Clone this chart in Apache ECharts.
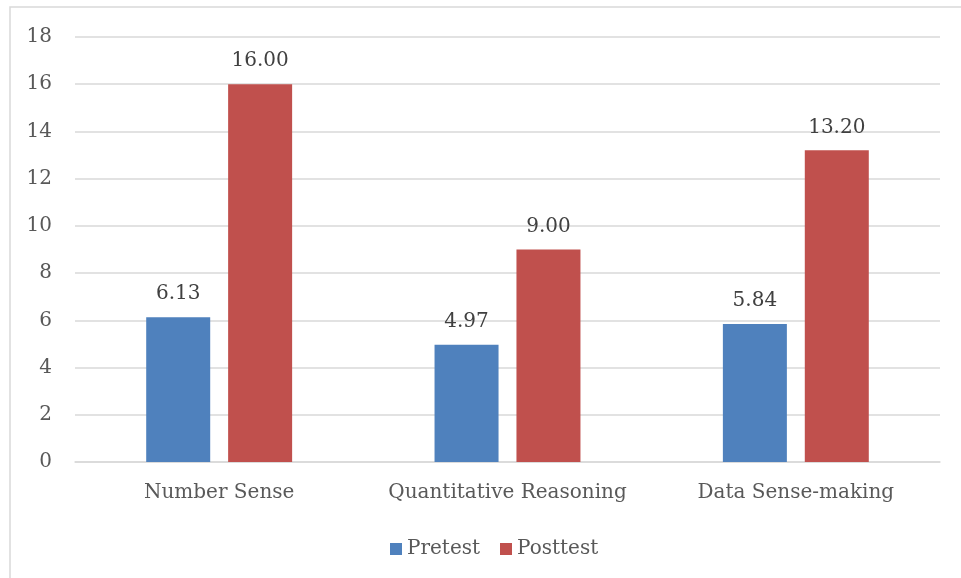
<!DOCTYPE html>
<html>
<head>
<meta charset="utf-8">
<title>Pretest vs Posttest</title>
<script src="https://cdn.jsdelivr.net/npm/echarts@6/dist/echarts.min.js"></script>
<style>
  html, body { margin: 0; padding: 0; background: #fff; }
  #main { width: 961px; height: 578px; }
</style>
</head>
<body>
<div id="main"></div>
<script>
// chart data
var categories = ['Number Sense', 'Quantitative Reasoning', 'Data Sense-making'];
var pretest = [6.13, 4.97, 5.84];
var posttest = [16.00, 9.00, 13.20];

var textColor = '#595959';
var fontFamily = '"DejaVu Serif", serif';

var chart = echarts.init(document.getElementById('main'));

var option = {
  animation: false,
  textStyle: { fontFamily: fontFamily },
  // outer frame, only top and left edges show
  graphic: [{
    type: 'rect',
    shape: { x: 10, y: 7, width: 1200, height: 1200 },
    style: { fill: 'none', stroke: '#d9d9d9', lineWidth: 1.5 },
    silent: true
  }],
  grid: {
    left: 75,
    right: 21,
    top: 37,
    bottom: 116
  },
  legend: {
    left: 385,
    top: 534,
    itemWidth: 12,
    itemHeight: 12,
    itemGap: 20,
    icon: 'rect',
    textStyle: { color: textColor, fontSize: 20, fontFamily: fontFamily },
    data: ['Pretest', 'Posttest']
  },
  xAxis: {
    type: 'category',
    data: categories,
    axisLine: { lineStyle: { color: '#d9d9d9', width: 1.5 } },
    axisTick: { show: false },
    axisLabel: { color: textColor, fontSize: 20, margin: 21, interval: 0, fontFamily: fontFamily }
  },
  yAxis: {
    type: 'value',
    min: 0,
    max: 18,
    interval: 2,
    axisLine: { show: false },
    axisTick: { show: false },
    axisLabel: { color: textColor, fontSize: 20, margin: 23, fontFamily: fontFamily },
    splitLine: { lineStyle: { color: '#d9d9d9', width: 1.5 } }
  },
  series: [
    {
      name: 'Pretest',
      type: 'bar',
      data: pretest,
      barWidth: 64,
      barGap: '28%',
      itemStyle: { color: '#4f81bd' },
      label: {
        show: true,
        position: 'top',
        distance: 13,
        color: '#404040',
        fontSize: 20,
        fontFamily: fontFamily,
        formatter: function (p) { return p.value.toFixed(2); }
      }
    },
    {
      name: 'Posttest',
      type: 'bar',
      data: posttest,
      barWidth: 64,
      barGap: '28%',
      itemStyle: { color: '#c0504d' },
      label: {
        show: true,
        position: 'top',
        distance: 13,
        color: '#404040',
        fontSize: 20,
        fontFamily: fontFamily,
        formatter: function (p) { return p.value.toFixed(2); }
      }
    }
  ]
};

chart.setOption(option);
</script>
</body>
</html>
